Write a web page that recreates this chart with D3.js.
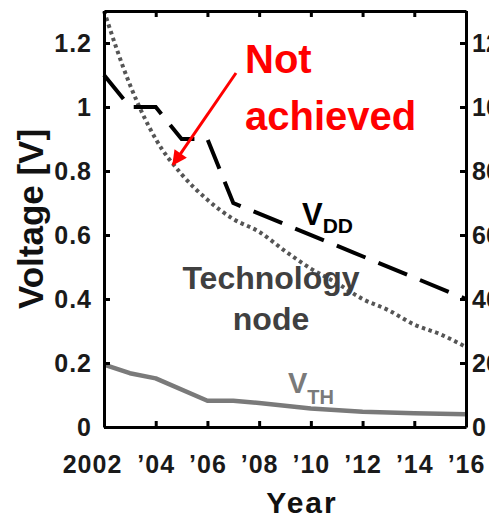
<!DOCTYPE html>
<html>
<head>
<meta charset="utf-8">
<script src="https://cdn.jsdelivr.net/npm/d3@7"></script>
<style>
  html, body { margin: 0; padding: 0; background: #fff; overflow: hidden; }
  svg { display: block; }
  text { font-family: "Liberation Sans", Arial, sans-serif; font-weight: bold; }
</style>
</head>
<body>
<svg id="chart" width="489" height="517"></svg>
<script>
// ---- data ----
const xTicks = [2002, 2004, 2006, 2008, 2010, 2012, 2014, 2016];
const xTickLabels = ["2002", "\u201904", "\u201906", "\u201908", "\u201910", "\u201912", "\u201914", "\u201916"];
const yTicks = [0, 0.2, 0.4, 0.6, 0.8, 1, 1.2];
const yTickLabels = ["0", "0.2", "0.4", "0.6", "0.8", "1", "1.2"];
const yRightTicks = [0, 20, 40, 60, 80, 100, 120];

const vddYears = [2002, 2003, 2004, 2005, 2006, 2007, 2016];
const vddValues = [1.1, 1.0, 1.0, 0.9, 0.9, 0.7, 0.4];

const nodeYears = [2002, 2003, 2004, 2005, 2006, 2007, 2008, 2009, 2010, 2011, 2012, 2013, 2014, 2015, 2016];
const nodeValues = [130, 107, 90, 79, 71, 65, 61, 55, 49.5, 45, 40, 36.5, 32, 29, 25];

const vthYears = [2002, 2003, 2004, 2006, 2007, 2008, 2010, 2012, 2014, 2016];
const vthValues = [0.195, 0.168, 0.152, 0.082, 0.082, 0.075, 0.058, 0.048, 0.043, 0.040];

// ---- layout ----
const svg = d3.select("#chart");
const x = d3.scaleLinear().domain([2002, 2016]).range([104, 466]);
const y = d3.scaleLinear().domain([0, 1.3]).range([427, 11]);
const yR = d3.scaleLinear().domain([0, 130]).range([427, 11]);

// ---- lines ----
const lineV = d3.line().x(d => x(d[0])).y(d => y(d[1]));
const lineN = d3.line().x(d => x(d[0])).y(d => yR(d[1])).curve(d3.curveMonotoneX);

svg.append("path")
  .datum(vthYears.map((t, i) => [t, vthValues[i]]))
  .attr("d", lineV)
  .attr("fill", "none").attr("stroke", "#7a7a7a").attr("stroke-width", 4.5)
  .attr("stroke-linejoin", "round");

svg.append("path")
  .datum(nodeYears.map((t, i) => [t, nodeValues[i]]))
  .attr("d", lineN)
  .attr("fill", "none").attr("stroke", "#555").attr("stroke-width", 4)
  .attr("stroke-dasharray", "3.5,3.5");

svg.append("path")
  .datum(vddYears.map((t, i) => [t, vddValues[i]]))
  .attr("d", lineV)
  .attr("fill", "none").attr("stroke", "#000").attr("stroke-width", 4)
  .attr("stroke-dasharray", "31,14");

// ---- axes ----
function styleAxis(g, spacing) {
  g.select(".domain").attr("stroke", "#000").attr("stroke-width", 3);
  g.selectAll(".tick line").attr("stroke", "#000").attr("stroke-width", 3);
  g.selectAll(".tick text").attr("fill", "#1a1a1a")
    .style("font-size", "25px").style("letter-spacing", spacing);
}

const gB = svg.append("g").attr("transform", `translate(0,${y(0)})`)
  .call(d3.axisBottom(x).tickValues(xTicks).tickFormat((d, i) => xTickLabels[i])
    .tickSize(-6).tickSizeOuter(0).tickPadding(28));
styleAxis(gB, "1px");
gB.selectAll(".tick text").filter((d, i) => i === 0).attr("dx", -12);

const gT = svg.append("g").attr("transform", `translate(0,${y(1.3)})`)
  .call(d3.axisTop(x).tickValues(xTicks).tickFormat("").tickSize(-6).tickSizeOuter(0));
styleAxis(gT, "0px");

const gL = svg.append("g").attr("transform", `translate(${x(2002)},0)`)
  .call(d3.axisLeft(y).tickValues(yTicks).tickFormat((d, i) => yTickLabels[i])
    .tickSize(-6).tickSizeOuter(0).tickPadding(12));
styleAxis(gL, "1px");

const gR = svg.append("g").attr("transform", `translate(${x(2016)},0)`)
  .call(d3.axisRight(yR).tickValues(yRightTicks).tickFormat(d3.format("d"))
    .tickSize(-6).tickSizeOuter(0).tickPadding(6));
styleAxis(gR, "0px");

// ---- axis titles ----
svg.append("text")
  .attr("x", 302).attr("y", 513).attr("text-anchor", "middle")
  .style("font-size", "30px").style("letter-spacing", "2px").attr("fill", "#111")
  .text("Year");

svg.append("text")
  .attr("transform", `translate(43,${y(0.65)}) rotate(-90)`)
  .attr("text-anchor", "middle")
  .style("font-size", "35px").attr("fill", "#111")
  .text("Voltage [V]");

// ---- series labels ----
const vdd = svg.append("text").attr("x", 302).attr("y", 225).attr("fill", "#000");
vdd.append("tspan").style("font-size", "31px").text("V");
vdd.append("tspan").attr("dy", 8).style("font-size", "21px").text("DD");

const vth = svg.append("text").attr("x", 288).attr("y", 393).attr("fill", "#7a7a7a");
vth.append("tspan").style("font-size", "29px").text("V");
vth.append("tspan").attr("dy", 11).style("font-size", "20px").text("TH");

svg.append("text").attr("x", 271).attr("y", 289).attr("text-anchor", "middle")
  .style("font-size", "32px").attr("fill", "#404040").text("Technology");
svg.append("text").attr("x", 271).attr("y", 330).attr("text-anchor", "middle")
  .style("font-size", "32px").attr("fill", "#404040").text("node");

// ---- annotation ----
svg.append("defs").append("marker")
  .attr("id", "arrow").attr("viewBox", "0 0 10 10")
  .attr("refX", 9).attr("refY", 5)
  .attr("markerWidth", 5.5).attr("markerHeight", 5)
  .attr("markerUnits", "strokeWidth")
  .attr("orient", "auto")
  .append("path").attr("d", "M0,0 L10,5 L0,10 Z").attr("fill", "#ff0000");

svg.append("line")
  .attr("x1", 236).attr("y1", 73)
  .attr("x2", x(2004.67)).attr("y2", yR(82))
  .attr("stroke", "#ff0000").attr("stroke-width", 3)
  .attr("marker-end", "url(#arrow)");

svg.append("text").attr("x", 245).attr("y", 73)
  .style("font-size", "40px").attr("fill", "#ff0000").text("Not");
svg.append("text").attr("x", 245).attr("y", 130)
  .style("font-size", "40px").attr("fill", "#ff0000").text("achieved");
</script>
</body>
</html>
